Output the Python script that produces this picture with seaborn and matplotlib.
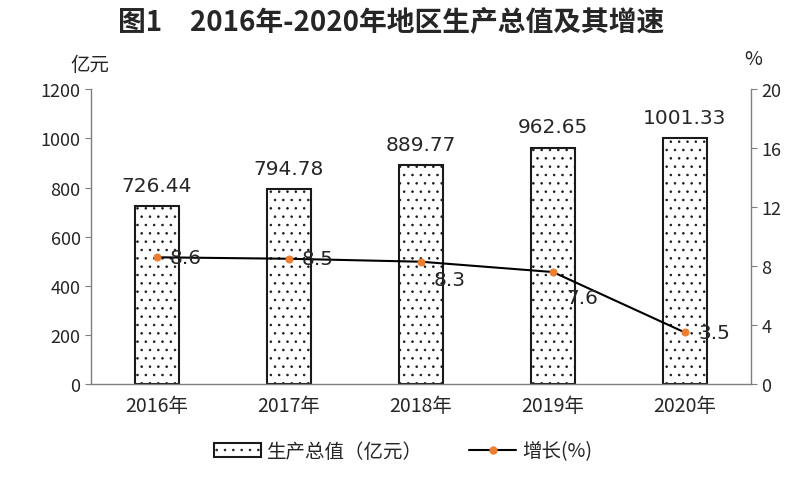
import numpy as np
import pandas as pd
import matplotlib
matplotlib.use("Agg")
import matplotlib.pyplot as plt
import seaborn as sns
from matplotlib.patches import Patch
from matplotlib.lines import Line2D

years = ["2016年", "2017年", "2018年", "2019年", "2020年"]
gdp = [726.44, 794.78, 889.77, 962.65, 1001.33]
growth = [8.6, 8.5, 8.3, 7.6, 3.5]

sns.set_style("white")
plt.rcParams['font.family'] = ['Noto Sans CJK SC', 'DejaVu Sans']
plt.rcParams['hatch.color'] = '#4a5570'
plt.rcParams['hatch.linewidth'] = 0.6

df = pd.DataFrame({"year": years, "gdp": gdp})

fig = plt.figure(figsize=(7.98, 4.85), dpi=100)
ax = fig.add_axes([0.114, 0.206, 0.827, 0.608])

sns.barplot(data=df, x="year", y="gdp", ax=ax, width=0.33,
            color="white", edgecolor="#1a1a1a", linewidth=1.5, hatch="..")
ax.set_xlim(-0.5, 4.5)
ax.set_ylim(0, 1200)
ax.set_yticks(range(0, 1201, 200))
ax.set_xlabel("")
ax.set_ylabel("")
for i, v in enumerate(gdp):
    ax.text(i, v + 45, f"{v:.2f}", ha="center", va="bottom", fontsize=14.5,
            family="DejaVu Sans")

ax2 = ax.twinx()
sns.lineplot(x=np.arange(len(growth)), y=growth, ax=ax2, color="black",
             linewidth=1.5, marker="o", markersize=5,
             markerfacecolor="#ed7d31", markeredgecolor="#ed7d31")
ax2.set_ylim(0, 20)
ax2.set_yticks(range(0, 21, 4))
offsets = [(0.22, 0.0), (0.22, 0.0), (0.22, -1.2), (0.22, -1.7), (0.22, 0.0)]
for i, v in enumerate(growth):
    dx, dy = offsets[i]
    ax2.text(i + dx, v + dy, f"{v}", ha="center", va="center", fontsize=14.5,
             family="DejaVu Sans")

for a in (ax, ax2):
    for s in a.spines.values():
        s.set_visible(False)
    a.tick_params(labelsize=13, length=0)
ax.spines['left'].set_visible(True)
ax.spines['bottom'].set_visible(True)
ax2.spines['right'].set_visible(True)
for s in (ax.spines['left'], ax.spines['bottom'], ax2.spines['right']):
    s.set_color("#7f7f7f")
    s.set_linewidth(1)
ax.tick_params(axis='y', length=4, direction='out', color="#7f7f7f")
ax2.tick_params(axis='y', length=4, direction='out', color="#7f7f7f")
ax.tick_params(axis='x', pad=8, labelsize=14)

fig.text(0.49, 0.955, "图1　2016年-2020年地区生产总值及其增速", ha="center",
         va="center", fontsize=20, fontweight="bold")
fig.text(0.112, 0.865, "亿元", ha="center", va="center", fontsize=14)
fig.text(0.944, 0.878, "%", ha="center", va="center", fontsize=14)

handles = [
    Patch(facecolor="white", edgecolor="#1a1a1a", hatch="..", linewidth=1.5,
          label="生产总值（亿元）"),
    Line2D([0], [0], color="black", linewidth=1.5, marker="o", markersize=5,
           markerfacecolor="#ed7d31", markeredgecolor="#ed7d31", label="增长(%)"),
]
fig.legend(handles=handles, loc="center", bbox_to_anchor=(0.505, 0.068), ncol=2,
           frameon=False, fontsize=14, columnspacing=2.4, handlelength=2.4,
           handletextpad=0.3)

fig.savefig("out.png", dpi=100)
